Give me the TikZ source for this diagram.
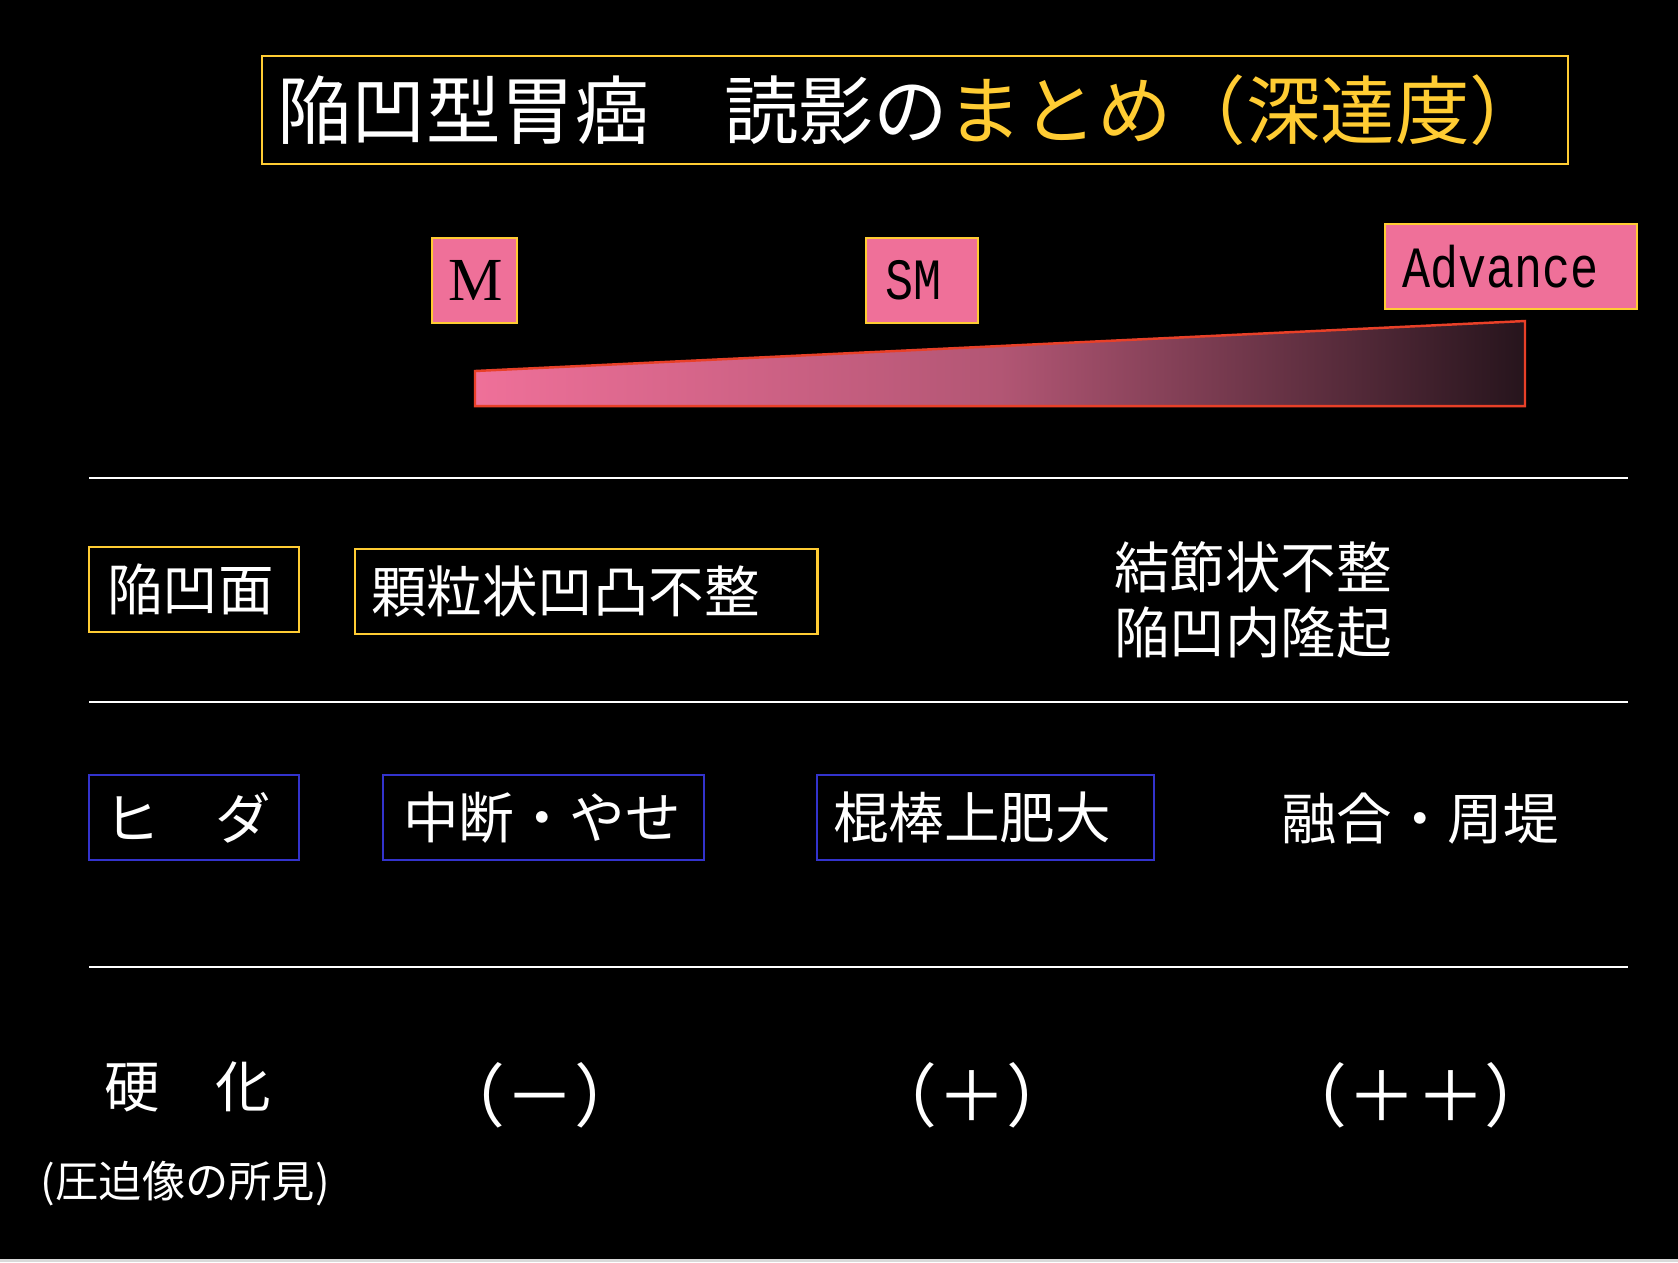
\documentclass[tikz,border=0pt]{standalone}
\usepackage{fontspec}
\usepackage{graphicx}
\setmainfont{Liberation Serif}
\newfontfamily\jpfont{Noto Sans CJK JP}
\newfontfamily\latinmono{Liberation Mono}
\newcommand\stagemono[1]{\scalebox{1}[1.25]{\latinmono\fontsize{13.3}{16}\selectfont #1}}
\definecolor{frameyellow}{RGB}{255,204,51}
\definecolor{stagepink}{RGB}{239,112,153}
\definecolor{boxblue}{RGB}{51,51,204}
\definecolor{wedgered}{RGB}{232,64,40}
\definecolor{wedgemid}{RGB}{178,86,116}
\definecolor{wedgedark}{RGB}{38,20,28}
\definecolor{stripgray}{RGB}{217,217,217}

\begin{document}
\begin{tikzpicture}[x=0.01cm, y=-0.01cm,
every node/.style = {inner sep=0pt, outer sep=0pt},
      lbl/.style = {font=\jpfont\fontsize{15.8}{18.5}\selectfont, text=white},
   tagbox/.style args = {#1/#2}{%
      lbl, draw=#1, line width=0.7pt, anchor=north west,
      minimum height=0.85cm, text width=#2, align=left},
    stage/.style = {draw=frameyellow, fill=stagepink, line width=0.7pt,
      anchor=north west, minimum height=0.85cm, text=black},
     rule/.style = {draw=white, line width=0.6pt},
    wedge/.style = {draw=wedgered, line width=0.7pt,
      left color=stagepink, right color=wedgedark, middle color=wedgemid},
    grade/.style = {lbl, font=\jpfont\fontsize{19.6}{23}\selectfont}
                    ]
\fill[black] (0,0) rectangle (1678,1259);
\fill[stripgray] (0,1259) rectangle (1678,1262);
 %
\node (T) [draw=frameyellow, line width=0.7pt, anchor=north west,
      minimum height=1.08cm, text width=12.75cm, inner xsep=0.15cm, align=left,
      font=\jpfont\fontsize{21.2}{25}\selectfont, text=white] at (262,56)
      {陥凹型胃癌　読影の\textcolor{frameyellow}{まとめ（深達度）}};
 %
\node (M)   [stage, text width=0.53cm, inner xsep=0.16cm, align=center,
             font=\fontsize{17.4}{20}\selectfont] at (432,238)  {M};
\node (SM)  [stage, text width=0.74cm, inner xsep=0.19cm, align=left]
             at (866,238)  {\stagemono{SM}};
\node (Adv) [stage, text width=2.18cm, inner xsep=0.17cm, align=left]
             at (1385,224) {\stagemono{Advance}};
\draw[wedge] (475,406) -- (475,371) -- (1525,321) -- (1525,406) -- cycle;
 %
\foreach \y in {478,702,967}
  \draw[rule] (89,\y) -- (1628,\y);
 %
\node (S1) [tagbox=frameyellow/1.74cm, inner xsep=0.18cm] at (89,547)  {陥凹面};
\node (S2) [tagbox=frameyellow/4.30cm, inner xsep=0.16cm] at (355,549) {顆粒状凹凸不整};
\node (S3) [lbl, align=center] at (1253,600) {結節状不整\\陥凹内隆起};
 %
\node (F1) [tagbox=boxblue/1.80cm, inner xsep=0.15cm] at (89,775)  {ヒ　ダ};
\node (F2) [tagbox=boxblue/2.81cm, inner xsep=0.20cm] at (383,775) {中断・やせ};
\node (F3) [tagbox=boxblue/3.05cm, inner xsep=0.16cm] at (817,775) {棍棒上肥大};
\node (F4) [lbl, anchor=west] at (1281,819) {融合・周堤};
 %
\node (H0) [lbl, anchor=west] at (104,1087) {硬　化};
\node (H1) [grade] at (540,1095)  {（－）};
\node (H2) [grade] at (972,1095)  {（＋）};
\node (H3) [grade] at (1416,1095) {（＋＋）};
\node (HN) [lbl, anchor=west, font=\jpfont\fontsize{12.3}{14}\selectfont]
           at (41,1184) {(圧迫像の所見)};
\end{tikzpicture}
\end{document}
